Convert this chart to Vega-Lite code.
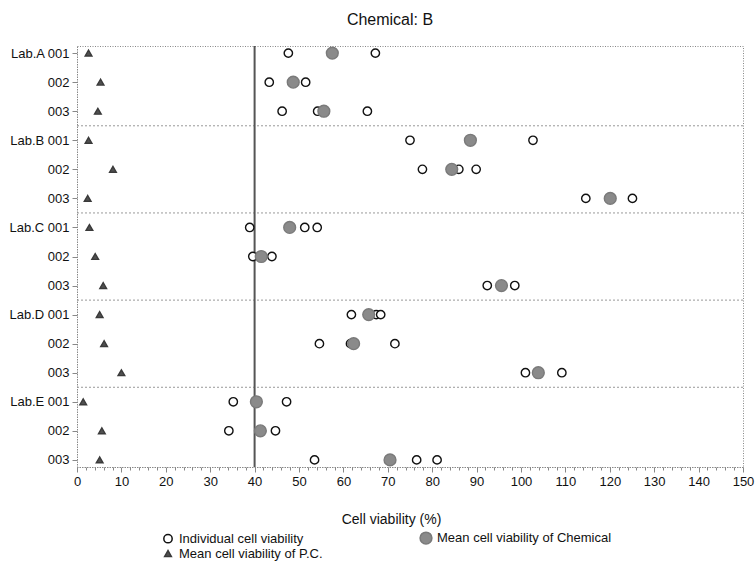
{
  "$schema": "https://vega.github.io/schema/vega-lite/v6.json",
  "width": 666,
  "height": 421,
  "autosize": {"type": "none"},
  "padding": {"left": 77, "top": 46, "right": 12, "bottom": 95},
  "background": "white",
  "config": {
    "font": "Liberation Sans",
    "view": {"stroke": "#888", "strokeDash": [1, 1.5], "strokeWidth": 1},
    "legend": {
      "orient": "none",
      "legendX": 84,
      "legendY": 485,
      "columns": 2,
      "columnPadding": 94,
      "rowPadding": -5,
      "labelFontSize": 13,
      "labelColor": "#111",
      "labelFont": "Liberation Sans",
      "labelLimit": 300
    }
  },
  "title": {"text": "Chemical: B", "fontSize": 16, "fontWeight": "normal", "color": "#111", "offset": 16, "dx": -20, "anchor": "middle"},
  "datasets": {
    "points": [
      {"row": "Lab.A 001", "type": "Individual cell viability", "value": 47.6},
      {"row": "Lab.A 001", "type": "Individual cell viability", "value": 67.2},
      {"row": "Lab.A 002", "type": "Individual cell viability", "value": 43.3},
      {"row": "Lab.A 002", "type": "Individual cell viability", "value": 51.5},
      {"row": "Lab.A 003", "type": "Individual cell viability", "value": 46.2},
      {"row": "Lab.A 003", "type": "Individual cell viability", "value": 54.2},
      {"row": "Lab.A 003", "type": "Individual cell viability", "value": 65.4},
      {"row": "Lab.B 001", "type": "Individual cell viability", "value": 75.0},
      {"row": "Lab.B 001", "type": "Individual cell viability", "value": 102.7},
      {"row": "Lab.B 002", "type": "Individual cell viability", "value": 77.8},
      {"row": "Lab.B 002", "type": "Individual cell viability", "value": 86.0},
      {"row": "Lab.B 002", "type": "Individual cell viability", "value": 89.9},
      {"row": "Lab.B 003", "type": "Individual cell viability", "value": 114.6},
      {"row": "Lab.B 003", "type": "Individual cell viability", "value": 125.1},
      {"row": "Lab.C 001", "type": "Individual cell viability", "value": 38.9},
      {"row": "Lab.C 001", "type": "Individual cell viability", "value": 51.3},
      {"row": "Lab.C 001", "type": "Individual cell viability", "value": 54.1},
      {"row": "Lab.C 002", "type": "Individual cell viability", "value": 39.6},
      {"row": "Lab.C 002", "type": "Individual cell viability", "value": 43.9},
      {"row": "Lab.C 003", "type": "Individual cell viability", "value": 92.4},
      {"row": "Lab.C 003", "type": "Individual cell viability", "value": 98.6},
      {"row": "Lab.D 001", "type": "Individual cell viability", "value": 61.8},
      {"row": "Lab.D 001", "type": "Individual cell viability", "value": 67.4},
      {"row": "Lab.D 001", "type": "Individual cell viability", "value": 68.4},
      {"row": "Lab.D 002", "type": "Individual cell viability", "value": 54.6},
      {"row": "Lab.D 002", "type": "Individual cell viability", "value": 61.6},
      {"row": "Lab.D 002", "type": "Individual cell viability", "value": 71.6},
      {"row": "Lab.D 003", "type": "Individual cell viability", "value": 101.0},
      {"row": "Lab.D 003", "type": "Individual cell viability", "value": 109.2},
      {"row": "Lab.E 001", "type": "Individual cell viability", "value": 35.2},
      {"row": "Lab.E 001", "type": "Individual cell viability", "value": 47.2},
      {"row": "Lab.E 002", "type": "Individual cell viability", "value": 34.2},
      {"row": "Lab.E 002", "type": "Individual cell viability", "value": 44.7},
      {"row": "Lab.E 003", "type": "Individual cell viability", "value": 53.5},
      {"row": "Lab.E 003", "type": "Individual cell viability", "value": 76.5},
      {"row": "Lab.E 003", "type": "Individual cell viability", "value": 81.1},
      {"row": "Lab.A 001", "type": "Mean cell viability of Chemical", "value": 57.5},
      {"row": "Lab.A 002", "type": "Mean cell viability of Chemical", "value": 48.7},
      {"row": "Lab.A 003", "type": "Mean cell viability of Chemical", "value": 55.6},
      {"row": "Lab.B 001", "type": "Mean cell viability of Chemical", "value": 88.6},
      {"row": "Lab.B 002", "type": "Mean cell viability of Chemical", "value": 84.4},
      {"row": "Lab.B 003", "type": "Mean cell viability of Chemical", "value": 120.1},
      {"row": "Lab.C 001", "type": "Mean cell viability of Chemical", "value": 47.9},
      {"row": "Lab.C 002", "type": "Mean cell viability of Chemical", "value": 41.5},
      {"row": "Lab.C 003", "type": "Mean cell viability of Chemical", "value": 95.6},
      {"row": "Lab.D 001", "type": "Mean cell viability of Chemical", "value": 65.7},
      {"row": "Lab.D 002", "type": "Mean cell viability of Chemical", "value": 62.3},
      {"row": "Lab.D 003", "type": "Mean cell viability of Chemical", "value": 103.9},
      {"row": "Lab.E 001", "type": "Mean cell viability of Chemical", "value": 40.4},
      {"row": "Lab.E 002", "type": "Mean cell viability of Chemical", "value": 41.3},
      {"row": "Lab.E 003", "type": "Mean cell viability of Chemical", "value": 70.5},
      {"row": "Lab.A 001", "type": "Mean cell viability of P.C.", "value": 2.6},
      {"row": "Lab.A 002", "type": "Mean cell viability of P.C.", "value": 5.3},
      {"row": "Lab.A 003", "type": "Mean cell viability of P.C.", "value": 4.7},
      {"row": "Lab.B 001", "type": "Mean cell viability of P.C.", "value": 2.6},
      {"row": "Lab.B 002", "type": "Mean cell viability of P.C.", "value": 8.1},
      {"row": "Lab.B 003", "type": "Mean cell viability of P.C.", "value": 2.4},
      {"row": "Lab.C 001", "type": "Mean cell viability of P.C.", "value": 2.8},
      {"row": "Lab.C 002", "type": "Mean cell viability of P.C.", "value": 4.1},
      {"row": "Lab.C 003", "type": "Mean cell viability of P.C.", "value": 5.9},
      {"row": "Lab.D 001", "type": "Mean cell viability of P.C.", "value": 5.1},
      {"row": "Lab.D 002", "type": "Mean cell viability of P.C.", "value": 6.1},
      {"row": "Lab.D 003", "type": "Mean cell viability of P.C.", "value": 10.0},
      {"row": "Lab.E 001", "type": "Mean cell viability of P.C.", "value": 1.4},
      {"row": "Lab.E 002", "type": "Mean cell viability of P.C.", "value": 5.6},
      {"row": "Lab.E 003", "type": "Mean cell viability of P.C.", "value": 5.1}
    ],
    "ref": [{"value": 40}],
    "separators": [{"row": "Lab.A 003"}, {"row": "Lab.B 003"}, {"row": "Lab.C 003"}, {"row": "Lab.D 003"}]
  },
  "layer": [
    {
      "data": {"name": "separators"},
      "mark": {"type": "rule", "color": "#999", "strokeDash": [2, 2], "strokeWidth": 1, "yOffset": 14.56},
      "encoding": {
        "y": {
          "field": "row",
          "type": "ordinal",
          "scale": {"type": "point", "padding": 0.245},
          "title": null,
          "axis": {
            "labelExpr": "indexof(datum.value, '001') >= 0 ? datum.value : slice(datum.value, 6)",
            "labelFontSize": 13,
            "labelColor": "#111",
            "labelPadding": 3,
            "tickSize": 5,
            "tickColor": "#888",
            "domainColor": "#888",
            "domainDash": [1, 1.5],
            "grid": false
          }
        }
      }
    },
    {
      "data": {"name": "ref"},
      "mark": {"type": "rule", "color": "#555", "strokeWidth": 2},
      "encoding": {
        "x": {
          "field": "value",
          "type": "quantitative",
          "scale": {"domain": [0, 150], "nice": false},
          "title": "Cell viability (%)",
          "axis": {
            "titleFontSize": 14,
            "titleFontWeight": "normal",
            "titleColor": "#111",
            "titleX": 314,
            "titlePadding": 24,
            "values": [0,2,4,6,8,10,12,14,16,18,20,22,24,26,28,30,32,34,36,38,40,42,44,46,48,50,52,54,56,58,60,62,64,66,68,70,72,74,76,78,80,82,84,86,88,90,92,94,96,98,100,102,104,106,108,110,112,114,116,118,120,122,124,126,128,130,132,134,136,138,140,142,144,146,148,150],
            "labelExpr": "datum.value % 10 === 0 ? datum.label : ''",
            "labelOverlap": false,
            "labelFlush": false,
            "labelFontSize": 13,
            "labelColor": "#111",
            "labelPadding": 3,
            "tickSize": {"condition": {"test": "datum.value % 10 === 0", "value": 5}, "value": 3},
            "tickColor": "#888",
            "domainColor": "#888",
            "domainDash": [1, 1.5],
            "grid": false
          }
        }
      }
    },
    {
      "data": {"name": "points"},
      "mark": {"type": "point", "filled": false, "strokeWidth": 1.4, "opacity": 1},
      "encoding": {
        "x": {
          "field": "value",
          "type": "quantitative",
          "scale": {"domain": [0, 150], "nice": false},
          "title": "Cell viability (%)",
          "axis": {
            "titleFontSize": 14,
            "titleFontWeight": "normal",
            "titleColor": "#111",
            "titleX": 314,
            "titlePadding": 24,
            "values": [0,2,4,6,8,10,12,14,16,18,20,22,24,26,28,30,32,34,36,38,40,42,44,46,48,50,52,54,56,58,60,62,64,66,68,70,72,74,76,78,80,82,84,86,88,90,92,94,96,98,100,102,104,106,108,110,112,114,116,118,120,122,124,126,128,130,132,134,136,138,140,142,144,146,148,150],
            "labelExpr": "datum.value % 10 === 0 ? datum.label : ''",
            "labelOverlap": false,
            "labelFlush": false,
            "labelFontSize": 13,
            "labelColor": "#111",
            "labelPadding": 3,
            "tickSize": {"condition": {"test": "datum.value % 10 === 0", "value": 5}, "value": 3},
            "tickColor": "#888",
            "domainColor": "#888",
            "domainDash": [1, 1.5],
            "grid": false
          }
        },
        "y": {
          "field": "row",
          "type": "ordinal",
          "scale": {"type": "point", "padding": 0.245},
          "title": null,
          "axis": {
            "labelExpr": "indexof(datum.value, '001') >= 0 ? datum.value : slice(datum.value, 6)",
            "labelFontSize": 13,
            "labelColor": "#111",
            "labelPadding": 3,
            "tickSize": 5,
            "tickColor": "#888",
            "domainColor": "#888",
            "domainDash": [1, 1.5],
            "grid": false
          }
        },
        "shape": {
          "field": "type", "type": "nominal",
          "scale": {"domain": ["Individual cell viability", "Mean cell viability of P.C.", "Mean cell viability of Chemical"], "range": ["circle", "triangle-up", "circle"]},
          "legend": {"title": null}
        },
        "fill": {
          "field": "type", "type": "nominal",
          "scale": {"domain": ["Individual cell viability", "Mean cell viability of P.C.", "Mean cell viability of Chemical"], "range": ["#ffffff", "#505050", "#8a8a8a"]},
          "legend": {"title": null}
        },
        "stroke": {
          "field": "type", "type": "nominal",
          "scale": {"domain": ["Individual cell viability", "Mean cell viability of P.C.", "Mean cell viability of Chemical"], "range": ["#111111", "#3a3a3a", "#7a7a7a"]},
          "legend": {"title": null}
        },
        "size": {
          "field": "type", "type": "nominal",
          "scale": {"type": "ordinal", "domain": ["Individual cell viability", "Mean cell viability of P.C.", "Mean cell viability of Chemical"], "range": [70, 45, 140]},
          "legend": {"title": null}
        }
      }
    }
  ]
}
